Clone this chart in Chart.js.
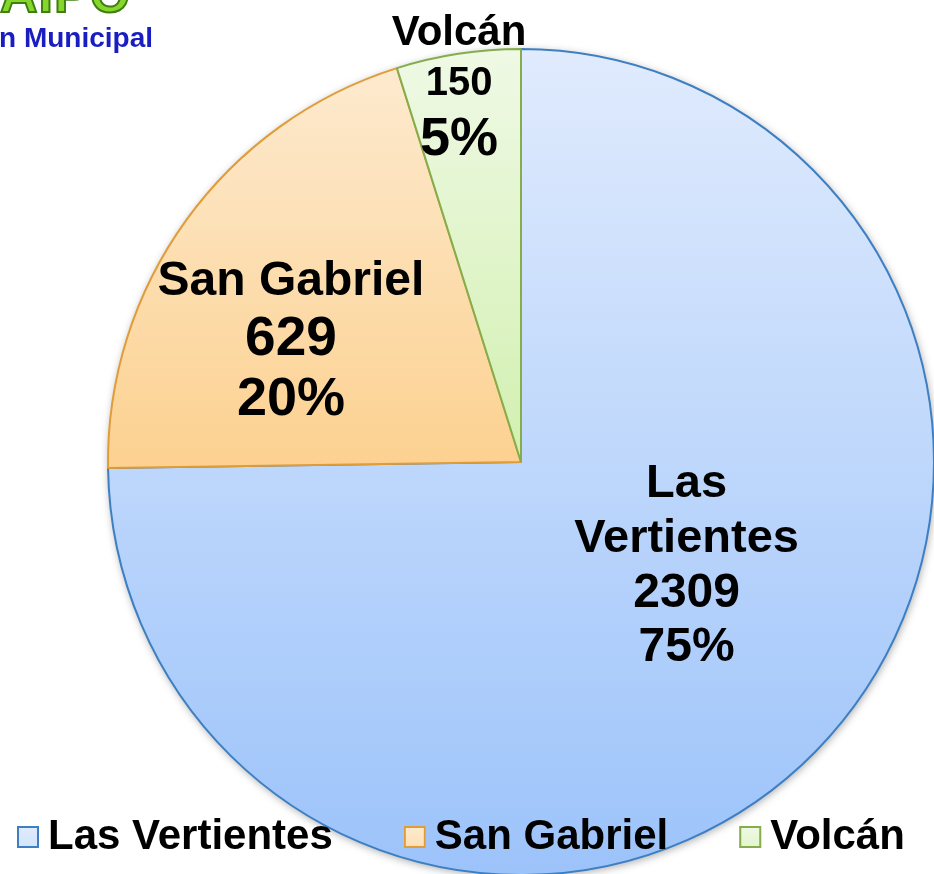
<!DOCTYPE html>
<html>
<head>
<meta charset="utf-8">
<script src="https://cdn.jsdelivr.net/npm/chart.js@4/dist/chart.umd.min.js"></script>
<style>
  html, body { margin: 0; padding: 0; background: #ffffff; overflow: hidden; }
  #wrap { position: relative; width: 934px; height: 874px; overflow: hidden; background: #fff; }
  #c { position: absolute; left: 0; top: 0; }
  .logo1 { position: absolute; left: 0px; top: -36px; font: bold 52px "Liberation Sans", Arial, sans-serif;
           color: #86d62c; -webkit-text-stroke: 2px #3f7f12; letter-spacing: 1px; z-index: 2; white-space: nowrap; }
  .logo2 { position: absolute; left: -1px; top: 22px; font: bold 28px "Liberation Sans", Arial, sans-serif;
           color: #1a1ec0; z-index: 2; white-space: nowrap; }
</style>
</head>
<body>
<div id="wrap">
  <div class="logo1">AIPO</div>
  <div class="logo2">n Municipal</div>
  <canvas id="c" width="1000" height="1000"></canvas>
</div>
<script>
// ---- data ----
const categories = ['Las Vertientes', 'San Gabriel', 'Volcán'];
const values = [2309, 629, 150];

// ---- styles ----
const gradTop    = ['#e0ebfd', '#fdeacf', '#eff9e5'];
const gradBottom = ['#9cc3fa', '#fcd190', '#d2f0b0'];
const borderCols = ['#3d7fc2', '#e09c38', '#86ad4c'];
const legendFill = ['#d3e4fb', '#fde0b4', '#e2f5cd'];

// label layout (offsets from pie center, in units of radius) and fonts per line
const labelAnchor = [
  { dx: 0.401, dy: 0.085, lh: [55, 55, 54], fonts: [47, 47, 48, 48], split: true },
  { dx: -0.557, dy: -0.404, lh: [60, 60], fonts: [48, 55, 54], split: false },
  { dx: -0.150, dy: -1.010, lh: [50, 60], fonts: [42, 40, 54], split: false }
];

const total = values.reduce((a, b) => a + b, 0);
const FONT = '"Liberation Sans", Arial, sans-serif';

function sectorBox(el) {
  let minY = el.y, maxY = el.y;
  const n = 120;
  for (let i = 0; i <= n; i++) {
    const a = el.startAngle + (el.endAngle - el.startAngle) * i / n;
    const y = el.y + Math.sin(a) * el.outerRadius;
    minY = Math.min(minY, y); maxY = Math.max(maxY, y);
  }
  return { minY, maxY };
}

const gradientPlugin = {
  id: 'grad',
  beforeDatasetsDraw(chart) {
    const ctx = chart.ctx;
    const meta = chart.getDatasetMeta(0);
    meta.data.forEach((el, i) => {
      const b = sectorBox(el);
      const g = ctx.createLinearGradient(0, b.minY, 0, b.maxY);
      g.addColorStop(0, gradTop[i]);
      g.addColorStop(1, gradBottom[i]);
      el.options.backgroundColor = g;
    });
    ctx.save();
    const el0 = meta.data[0];
    ctx.beginPath();
    ctx.arc(el0.x, el0.y, el0.outerRadius, 0, Math.PI * 2);
    ctx.shadowColor = 'rgba(0,0,0,0.35)';
    ctx.shadowBlur = 8;
    ctx.shadowOffsetX = 1;
    ctx.shadowOffsetY = 2;
    ctx.fillStyle = '#ffffff';
    ctx.fill();
    ctx.restore();
  },
  afterDraw(chart) {
    const ctx = chart.ctx;
    const meta = chart.getDatasetMeta(0);
    ctx.save();
    ctx.fillStyle = '#000000';
    ctx.textAlign = 'center';
    ctx.textBaseline = 'alphabetic';
    meta.data.forEach((el, i) => {
      const L = labelAnchor[i];
      const pct = Math.round(values[i] / total * 100) + '%';
      let lines = L.split ? categories[i].split(' ') : [categories[i]];
      lines = lines.concat([String(values[i]), pct]);
      const cx = el.x + L.dx * el.outerRadius;
      let y = el.y + L.dy * el.outerRadius;
      lines.forEach((t, k) => {
        ctx.font = 'bold ' + L.fonts[k] + 'px ' + FONT;
        ctx.fillText(t, cx, y);
        y += L.lh[k] || 0;
      });
    });

    // legend (overlapping the pie, as in the reference)
    ctx.font = 'bold 42px ' + FONT;
    const box = 22, gap = 9, itemGap = 71;
    const widths = categories.map(c => ctx.measureText(c).width);
    let x = 17;
    const baseY = 849;
    categories.forEach((c, i) => {
      const by = 826;
      const g = ctx.createLinearGradient(0, by, 0, by + box);
      g.addColorStop(0, gradTop[i]);
      g.addColorStop(1, legendFill[i]);
      ctx.fillStyle = g;
      ctx.fillRect(x, by, box, box);
      ctx.lineWidth = 2;
      ctx.strokeStyle = borderCols[i];
      ctx.strokeRect(x + 1, by + 1, box - 2, box - 2);
      ctx.fillStyle = '#000000';
      ctx.textAlign = 'left';
      ctx.fillText(c, x + box + gap, baseY);
      x += box + gap + widths[i] + itemGap;
    });
    ctx.restore();
  }
};

new Chart(document.getElementById('c'), {
  type: 'pie',
  data: {
    labels: categories,
    datasets: [{
      data: values,
      backgroundColor: gradTop,
      borderColor: borderCols,
      borderWidth: 2
    }]
  },
  options: {
    responsive: false,
    animation: false,
    layout: { padding: { left: 107, top: 48, right: 65, bottom: 124 } },
    plugins: {
      legend: { display: false },
      tooltip: { enabled: false }
    }
  },
  plugins: [gradientPlugin]
});
</script>
</body>
</html>
